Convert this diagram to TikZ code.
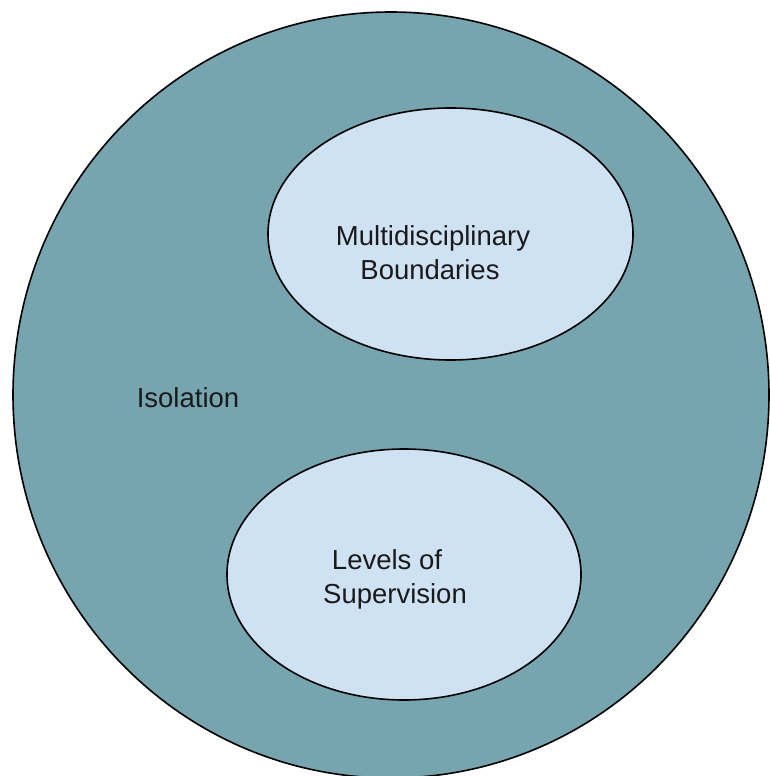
\documentclass[tikz,border=0pt]{standalone}
\usepackage{fontspec}
\setmainfont{Liberation Sans}
\usetikzlibrary{shapes.geometric}
\definecolor{outerfill}{HTML}{76A5AF}
\definecolor{innerfill}{HTML}{CFE2F3}
\definecolor{txt}{HTML}{1A1A1A}
\begin{document}
\begin{tikzpicture}[x=1pt,y=-1pt,
  blob/.style={ellipse, draw=black, line width=1.6pt, inner sep=0pt},
  lbl/.style={anchor=base, inner sep=0pt, text=txt, font=\fontsize{27.5}{33}\selectfont}]
\useasboundingbox (0,0) rectangle (770,776);
\node[blob, fill=outerfill, minimum width=756pt, minimum height=766pt] (outer) at (391,395) {};
\node[blob, fill=innerfill, minimum width=365pt, minimum height=252pt] (top) at (450.5,234) {};
\node[blob, fill=innerfill, minimum width=354pt, minimum height=251pt] (bottom) at (404,574.5) {};
\node[lbl] (t1) at (433,245.5) {Multidisciplinary};
\node[lbl] (t2) at (430,279) {Boundaries};
\node[lbl] (iso) at (188,407) {Isolation};
\node[lbl] (b1) at (387,569) {Levels of};
\node[lbl] (b2) at (395,603) {Supervision};
\end{tikzpicture}
\end{document}
